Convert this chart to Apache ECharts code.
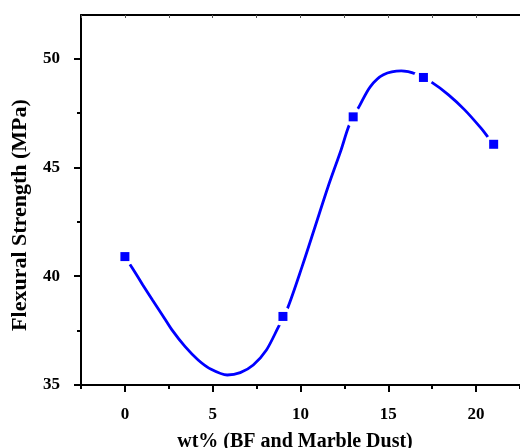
<!DOCTYPE html>
<html>
<head>
<meta charset="utf-8">
<script src="https://cdn.jsdelivr.net/npm/echarts@6/dist/echarts.min.js"></script>
<style>
html,body{margin:0;padding:0;background:#fff;}
#c{width:520px;height:448px;}
</style>
</head>
<body>
<div id="c"></div>
<script>
// Measured data points
var pointX = [0, 9, 13, 17, 21];
var pointY = [40.9, 38.15, 47.32, 49.13, 46.06];
// Fitted curve
var curveX = [0, 0.43, 1.02, 1.57, 2.13, 2.68, 3.43, 4.17, 4.91, 5.83, 6.57, 7.31, 8.06, 8.7, 9.26, 10.09, 10.83, 11.57, 12.31, 12.78, 13.39, 13.98, 14.72, 15.74, 16.57, 17.5, 18.43, 19.35, 20.28, 20.69, 21];
var curveY = [40.9, 40.36, 39.6, 38.91, 38.22, 37.53, 36.76, 36.15, 35.72, 35.46, 35.57, 35.92, 36.61, 37.6, 38.52, 40.44, 42.27, 44.11, 45.8, 46.95, 47.87, 48.71, 49.25, 49.43, 49.29, 48.89, 48.33, 47.64, 46.8, 46.38, 46.06];
var xMajorTicks = [0, 5, 10, 15, 20];
var yMajorTicks = [35, 40, 45, 50];
var yMinorTicks = [37.5, 42.5, 47.5];
var xTitle = 'wt% (BF and Marble Dust)';
var yTitle = 'Flexural Strength (MPa)';

var FONT = '"Liberation Serif", "Times New Roman", serif';
var chart = echarts.init(document.getElementById('c'), null, {renderer: 'canvas'});
var gridPos = {left: 81, top: 15, right: -11, bottom: 63, containLabel: false};
var lbl = {fontFamily: FONT, fontWeight: 'bold', fontSize: 17, color: '#000'};

chart.setOption({
  animation: false,
  backgroundColor: '#fff',
  grid: [Object.assign({}, gridPos), Object.assign({}, gridPos)],
  xAxis: [
    {
      gridIndex: 0, type: 'value', position: 'bottom', min: -2.5, max: 22.5,
      axisLine: {show: true, onZero: false, lineStyle: {color: '#000', width: 2}},
      axisTick: {show: true, customValues: xMajorTicks, length: 7, inside: false, lineStyle: {color: '#000', width: 2}},
      axisLabel: Object.assign({customValues: xMajorTicks, margin: 21}, lbl),
      splitLine: {show: false}
    },
    {
      gridIndex: 1, type: 'value', position: 'bottom', min: -2.5, max: 22.5, interval: 2.5,
      axisLine: {show: false, onZero: false},
      axisTick: {show: true, length: 4, lineStyle: {color: '#000', width: 2}},
      axisLabel: {show: false},
      splitLine: {show: false}
    },
    {
      gridIndex: 1, type: 'value', position: 'top', min: -2.5, max: 22.5, interval: 2.5,
      axisLine: {show: true, onZero: false, lineStyle: {color: '#000', width: 2}},
      axisTick: {show: true, inside: true, length: 3, lineStyle: {color: '#555', width: 1}},
      axisLabel: {show: false},
      splitLine: {show: false}
    }
  ],
  yAxis: [
    {
      gridIndex: 0, type: 'value', position: 'left', min: 35, max: 52,
      axisLine: {show: true, onZero: false, lineStyle: {color: '#000', width: 2}},
      axisTick: {show: true, customValues: yMajorTicks, length: 7, lineStyle: {color: '#000', width: 2}},
      axisLabel: Object.assign({customValues: yMajorTicks, margin: 21}, lbl),
      splitLine: {show: false}
    },
    {
      gridIndex: 1, type: 'value', position: 'left', min: 35, max: 52,
      axisLine: {show: false, onZero: false},
      axisTick: {show: true, customValues: yMinorTicks, length: 4, lineStyle: {color: '#000', width: 2}},
      axisLabel: {show: false},
      splitLine: {show: false}
    }
  ],
  graphic: [
    {type: 'text', x: 295, y: 442, style: {text: xTitle, font: 'bold 20px ' + FONT, fill: '#000', align: 'center', verticalAlign: 'middle'}, z: 10},
    {type: 'text', x: 20, y: 215, rotation: Math.PI / 2, style: {text: yTitle, font: 'bold 22px ' + FONT, fill: '#000', align: 'center', verticalAlign: 'middle'}, z: 10}
  ],
  series: [
    {
      type: 'line', xAxisIndex: 0, yAxisIndex: 0, smooth: 0.3, showSymbol: false, symbol: 'none',
      data: curveX.map(function (x, i) { return [x, curveY[i]]; }),
      lineStyle: {color: '#0000ff', width: 2.8}, z: 2
    },
    {
      type: 'scatter', xAxisIndex: 0, yAxisIndex: 0, symbol: 'circle', symbolSize: 19,
      data: pointX.map(function (x, i) { return [x, pointY[i]]; }),
      itemStyle: {color: '#ffffff', opacity: 1}, z: 5
    },
    {
      type: 'scatter', xAxisIndex: 0, yAxisIndex: 0, symbol: 'rect', symbolSize: 9,
      data: pointX.map(function (x, i) { return [x, pointY[i]]; }),
      itemStyle: {color: '#0000ff', opacity: 1}, z: 6
    }
  ]
});
</script>
</body>
</html>
